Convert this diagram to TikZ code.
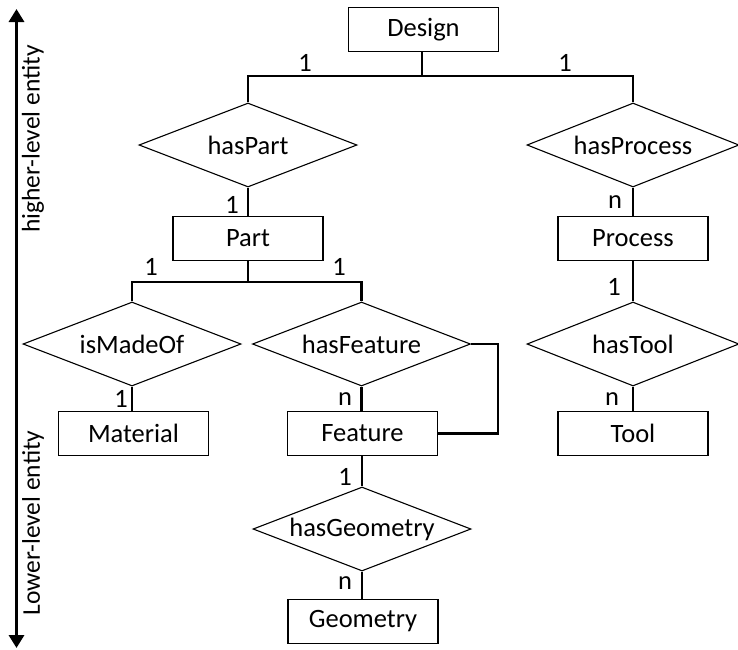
\documentclass[tikz,border=0pt]{standalone}
\usepackage{fontspec}
\setmainfont{Carlito}
\usetikzlibrary{shapes.geometric,arrows.meta}
\begin{document}
\begin{tikzpicture}[x=1pt,y=-1pt,
  every node/.style={font=\fontsize{26.5}{29}\selectfont},
  ent/.style={draw,line width=1.1pt,minimum width=150pt,minimum height=44pt,inner sep=0pt},
  rel/.style={draw,diamond,line width=1.1pt,minimum width=218pt,minimum height=84pt,inner sep=0pt,aspect=2.6},
  relr/.style={rel,minimum width=212pt},
  thin link/.style={line width=1.1pt},
  link/.style={line width=2.8pt},
  card/.style={inner sep=0pt}]
\useasboundingbox (0,0) rectangle (738,649);
% entities
\node[ent] (design) at (423.5,29.5) {Design};
\node[ent] (part) at (248,238.5) {Part};
\node[ent] (process) at (633,238.5) {Process};
\node[ent] (material) at (133.5,433.5) {Material};
\node[ent] (feature) at (362.5,433.5) {Feature};
\node[ent] (tool) at (633,433.5) {Tool};
\node[ent] (geometry) at (363,621.5) {Geometry};
% relations
\node[rel] (haspart) at (248,145) {hasPart};
\node[relr] (hasprocess) at (633,145) {hasProcess};
\node[rel] (ismadeof) at (132,344) {isMadeOf};
\node[rel] (hasfeature) at (361.5,344) {hasFeature};
\node[relr] (hastool) at (633,344) {hasTool};
\node[rel] (hasgeometry) at (362,529) {hasGeometry};
% connectors
\coordinate (dj) at (422,76);
\coordinate (pj) at (248,282);
\coordinate (loopc) at (498,344);
\draw[link] (design.south -| dj) -- (dj);
\draw[link] (haspart.north) -- (haspart.north |- dj) -- (hasprocess.north |- dj) -- (hasprocess.north);
\draw[thin link] (haspart.south) -- (part.north -| haspart.south);
\draw[link] (part.south -| pj) -- (pj);
\draw[link] (ismadeof.north) -- (ismadeof.north |- pj) -- (hasfeature.north |- pj) -- (hasfeature.north);
\draw[link] (hasprocess.south) -- (process.north -| hasprocess.south);
\draw[link] (process.south -| hastool.north) -- (hastool.north);
\draw[link] (ismadeof.south) -- (material.north -| ismadeof.south);
\draw[link] (hasfeature.south) -- (feature.north -| hasfeature.south);
\draw[link] (hastool.south) -- (tool.north -| hastool.south);
\draw[link] (hasfeature.east) -- (loopc) -- (loopc |- feature.east) -- (feature.east);
\draw[link] (feature.south -| hasgeometry.north) -- (hasgeometry.north);
\draw[link] (hasgeometry.south) -- (geometry.north -| hasgeometry.south);
% cardinalities
\node[card] (c1) at (305,63) {1};
\node[card] (c2) at (565,63) {1};
\node[card] (c3) at (232,205) {1};
\node[card] (c4) at (615,202) {n};
\node[card] (c5) at (151,267) {1};
\node[card] (c6) at (339,267) {1};
\node[card] (c7) at (614,287) {1};
\node[card] (c8) at (121,399) {1};
\node[card] (c9) at (345,399) {n};
\node[card] (c10) at (612,399) {n};
\node[card] (c11) at (345,477) {1};
\node[card] (c12) at (345,583) {n};
% level axis
\coordinate (axtop) at (16.5,9);
\coordinate (axbot) at (16.5,648);
\draw[line width=3.5pt,{Triangle[length=13pt,width=15pt]}-{Triangle[length=13pt,width=15pt]}] (axtop) -- (axbot);
\node[rotate=90,font=\fontsize{25.5}{28}\selectfont] (hl) at (33,139) {higher-level entity};
\node[rotate=90,font=\fontsize{25.5}{28}\selectfont] (ll) at (33,523) {Lower-level entity};
\end{tikzpicture}
\end{document}
